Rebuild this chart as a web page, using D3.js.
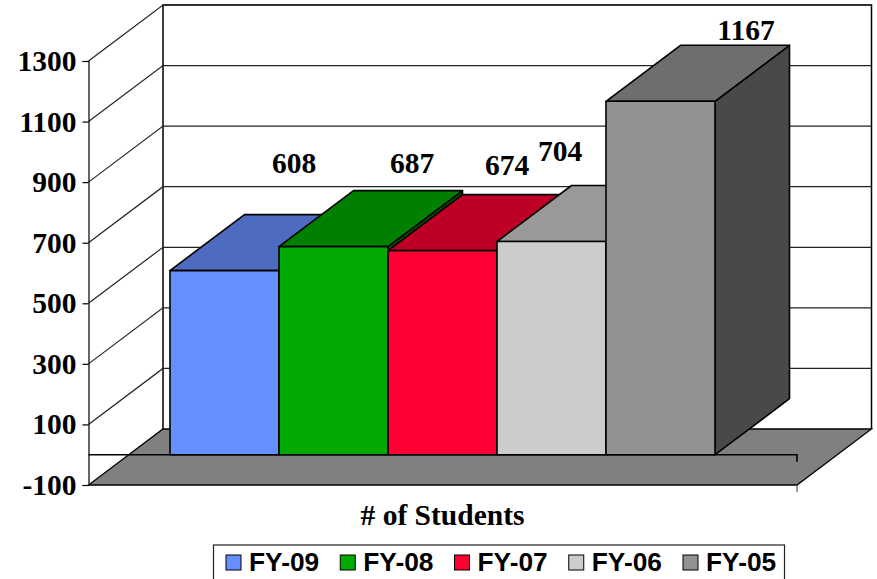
<!DOCTYPE html>
<html>
<head>
<meta charset="utf-8">
<script src="https://cdn.jsdelivr.net/npm/d3@7"></script>
<style>
  html, body { margin: 0; padding: 0; background: #fff; overflow: hidden; }
  svg { display: block; }
</style>
</head>
<body>
<div id="chart"></div>
<script>
// Dados
const years = ["FY-09", "FY-08", "FY-07", "FY-06", "FY-05"];
const students = [608, 687, 674, 704, 1167];
const barColors = ["#6690ff", "#00aa00", "#ff0033", "#cccccc", "#929292"];
const yTicks = [-100, 100, 300, 500, 700, 900, 1100, 1300];

// labels were placed by hand in the original, so they sit off the bars
const labelNudgeX = [-5, 4, -10, -66, 11];
const labelNudgeY = [-98, -74, -76, -81, -61];

const width = 877, height = 579;
const serif = "'Liberation Serif', 'Times New Roman', serif";
const sans = "'Liberation Sans', Arial, sans-serif";

// 3D offset of the chart box
const depthX = 74.5, depthY = -56;

const svg = d3.select("#chart").append("svg")
  .attr("width", width)
  .attr("height", height);

const y = d3.scaleLinear().domain([-100, 1300]).range([485, 61]);
const x = d3.scaleBand().domain(years).range([170, 715]).padding(0);

const left = 88.5, right = 797;
const pts = a => a.map(p => p.join(",")).join(" ");
const shade = (color, k) => {
  const c = d3.rgb(color);
  return d3.rgb(c.r * k, c.g * k, c.b * k).formatHex();
};

// back wall
svg.append("polyline")
  .attr("points", pts([
    [left + depthX, y(-100) + depthY],
    [left + depthX, y(1300) + depthY],
    [right + depthX, y(1300) + depthY],
    [right + depthX, y(-100) + depthY]
  ]))
  .attr("fill", "none")
  .attr("stroke", "#000")
  .attr("stroke-width", 1.5);

// grid lines, side wall and back wall
yTicks.slice(1).forEach(t => {
  svg.append("polyline")
    .attr("points", pts([
      [left, y(t)],
      [left + depthX, y(t) + depthY],
      [right + depthX, y(t) + depthY]
    ]))
    .attr("fill", "none")
    .attr("stroke", "#222")
    .attr("stroke-width", 1.2);
});

// floor
svg.append("polygon")
  .attr("points", pts([
    [left, y(-100)],
    [right, y(-100)],
    [right + depthX, y(-100) + depthY],
    [left + depthX, y(-100) + depthY]
  ]))
  .attr("fill", "#808080")
  .attr("stroke", "#000")
  .attr("stroke-width", 1.3);

// axis at zero, the bars stand on it
svg.append("path")
  .attr("d", `M${left},${y(0)}H${right}V${y(0) + 7}`)
  .attr("fill", "none")
  .attr("stroke", "#000")
  .attr("stroke-width", 1.6);

// tick below the front right corner
svg.append("line")
  .attr("x1", right).attr("x2", right)
  .attr("y1", y(-100)).attr("y2", y(-100) + 7)
  .attr("stroke", "#555")
  .attr("stroke-width", 1.2);

// eixo y
const yAxis = svg.append("g")
  .attr("transform", `translate(${left},0)`)
  .call(d3.axisLeft(y).tickValues(yTicks).tickSize(6).tickPadding(6).tickFormat(d => String(d)));

yAxis.selectAll("path, line").attr("stroke", "#000").attr("stroke-width", 1.2);
yAxis.selectAll("text")
  .attr("fill", "#000")
  .style("font-family", serif)
  .style("font-weight", "bold")
  .style("font-size", "29.5px");

// barras, left to right so each one covers the side of the previous
const bars = years.map((name, i) => ({ name, value: students[i], color: barColors[i], i }));

const bar = svg.selectAll("g.bar")
  .data(bars)
  .join("g")
  .attr("class", "bar")
  .attr("stroke", "#000")
  .attr("stroke-width", 1.6)
  .attr("stroke-linejoin", "round");

// side face
bar.append("polygon")
  .attr("points", d => {
    const x1 = x(d.name) + x.bandwidth(), t = y(d.value), b = y(0);
    return pts([[x1, t], [x1 + depthX, t + depthY], [x1 + depthX, b + depthY], [x1, b]]);
  })
  .attr("fill", d => shade(d.color, 0.5));

// top face
bar.append("polygon")
  .attr("points", d => {
    const x0 = x(d.name), x1 = x0 + x.bandwidth(), t = y(d.value);
    return pts([[x0, t], [x1, t], [x1 + depthX, t + depthY], [x0 + depthX, t + depthY]]);
  })
  .attr("fill", d => shade(d.color, 0.75));

// front face
bar.append("rect")
  .attr("x", d => x(d.name))
  .attr("y", d => y(d.value))
  .attr("width", x.bandwidth())
  .attr("height", d => y(0) - y(d.value))
  .attr("fill", d => d.color);

// rótulos
svg.selectAll("text.value")
  .data(bars)
  .join("text")
  .attr("class", "value")
  .attr("x", d => x(d.name) + x.bandwidth() / 2 + depthX + labelNudgeX[d.i])
  .attr("y", d => y(d.value) + labelNudgeY[d.i])
  .attr("text-anchor", "middle")
  .style("font-family", serif)
  .style("font-weight", "bold")
  .style("font-size", "29.5px")
  .text(d => d.value);

// título do eixo
svg.append("text")
  .attr("x", 442.5)
  .attr("y", 525)
  .attr("text-anchor", "middle")
  .style("font-family", serif)
  .style("font-weight", "bold")
  .style("font-size", "29.5px")
  .text("# of Students");

// legenda, the box runs off the bottom of the page
const legendX = d3.scalePoint().domain(years).range([226, 683]);

svg.append("rect")
  .attr("x", 213.5)
  .attr("y", 545)
  .attr("width", 571)
  .attr("height", 40)
  .attr("fill", "#fff")
  .attr("stroke", "#222")
  .attr("stroke-width", 1.2);

const item = svg.selectAll("g.legend")
  .data(bars)
  .join("g")
  .attr("class", "legend")
  .attr("transform", d => `translate(${legendX(d.name)},0)`);

item.append("rect")
  .attr("y", 555)
  .attr("width", 15)
  .attr("height", 15)
  .attr("fill", d => d.color)
  .attr("stroke", "#000")
  .attr("stroke-width", 1);

item.append("text")
  .attr("x", 23)
  .attr("y", 571)
  .style("font-family", sans)
  .style("font-weight", "bold")
  .style("font-size", "26.3px")
  .text(d => d.name);
</script>
</body>
</html>
